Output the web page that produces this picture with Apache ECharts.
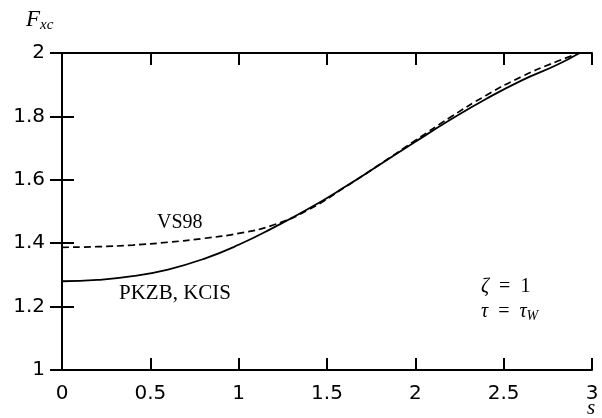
<!DOCTYPE html>
<html>
<head>
<meta charset="utf-8">
<script src="https://cdn.jsdelivr.net/npm/echarts@6/dist/echarts.min.js"></script>
<style>
  html, body { margin: 0; padding: 0; background: #fff; }
  #chart { width: 602px; height: 418px; }
</style>
</head>
<body>
<div id="chart"></div>
<script>
// s values and enhancement factors
var sVals = [0, 0.2, 0.4, 0.6, 0.8, 1.0, 1.2, 1.4, 1.6, 1.8, 2.0, 2.2, 2.4, 2.6, 2.8, 2.93];
var pkzb  = [1.28, 1.284, 1.296, 1.317, 1.35, 1.395, 1.45, 1.51, 1.577, 1.648, 1.72, 1.79, 1.855, 1.913, 1.962, 2.0];
var vs98  = [1.387, 1.389, 1.394, 1.403, 1.415, 1.431, 1.458, 1.507, 1.576, 1.649, 1.724, 1.798, 1.866, 1.925, 1.973, 2.0];
var xTicks = ['0', '0.5', '1', '1.5', '2', '2.5', '3'];

function pairs(ys) {
    var out = [];
    sVals.forEach(function (s, i) { out.push([s, ys[i]]); });
    return out;
}

var tickFont = { color: '#000', fontSize: 20, fontFamily: 'DejaVu Sans' };
var axisLine = { show: true, lineStyle: { color: '#000', width: 2 } };
var axisTick = { show: true, inside: true, length: 12, lineStyle: { color: '#000', width: 2 } };

var myChart = echarts.init(document.getElementById('chart'));
var option = {
    animation: false,
    backgroundColor: '#fff',
    grid: { left: 62, right: 10, top: 53, bottom: 48 },
    xAxis: [{
        type: 'value', min: 0, max: 3, interval: 0.5,
        axisLine: axisLine, axisTick: axisTick, splitLine: { show: false },
        axisLabel: Object.assign({ margin: 14, formatter: function (v) { return xTicks[Math.round(v * 2)]; } }, tickFont)
    }, {
        type: 'value', position: 'top', min: 0, max: 3, interval: 0.5,
        axisLine: axisLine, axisTick: axisTick, splitLine: { show: false },
        axisLabel: { show: false }
    }],
    yAxis: [{
        type: 'value', min: 1, max: 2, interval: 0.2,
        axisLine: axisLine, axisTick: axisTick, splitLine: { show: false },
        axisLabel: Object.assign({ margin: 17, formatter: function (v) { return String(Math.round(v * 10) / 10); } }, tickFont)
    }, {
        type: 'value', position: 'right', min: 1, max: 2, interval: 0.2,
        axisLine: axisLine, axisTick: axisTick, splitLine: { show: false },
        axisLabel: { show: false }
    }],
    series: [{
        name: 'PKZB, KCIS', type: 'line', smooth: true, symbol: 'none',
        lineStyle: { color: '#000', width: 1.8 },
        data: pairs(pkzb)
    }, {
        name: 'VS98', type: 'line', smooth: true, symbol: 'none',
        lineStyle: { color: '#000', width: 1.7, type: [7, 4] },
        data: pairs(vs98)
    }],
    graphic: [{
        type: 'text', left: 26, top: 8,
        style: {
            text: '{f|F}{sub|xc}',
            rich: {
                f: { fontFamily: 'Liberation Serif', fontStyle: 'italic', fontSize: 23, fill: '#000' },
                sub: { fontFamily: 'Liberation Serif', fontStyle: 'italic', fontSize: 15, fill: '#000', padding: [11, 0, 0, 0] }
            }
        }
    }, {
        type: 'text', left: 587, top: 398,
        style: { text: 's', fontFamily: 'Liberation Serif', fontStyle: 'italic', fontSize: 21, fill: '#000' }
    }, {
        type: 'text', left: 157, top: 213,
        style: { text: 'VS98', fontFamily: 'Liberation Serif', fontSize: 20, fill: '#000' }
    }, {
        type: 'text', left: 119, top: 283,
        style: { text: 'PKZB, KCIS', fontFamily: 'Liberation Serif', fontSize: 21, fill: '#000' }
    }, {
        type: 'text', left: 481, top: 277,
        style: {
            text: '{i|ζ}  =  1',
            fontFamily: 'Liberation Serif', fontSize: 20, fill: '#000',
            rich: { i: { fontFamily: 'Liberation Serif', fontStyle: 'italic', fontSize: 20, fill: '#000' } }
        }
    }, {
        type: 'text', left: 481, top: 302,
        style: {
            text: '{i|τ}  =  {i|τ}{sub|W}',
            fontFamily: 'Liberation Serif', fontSize: 20, fill: '#000',
            rich: {
                i: { fontFamily: 'Liberation Serif', fontStyle: 'italic', fontSize: 20, fill: '#000' },
                sub: { fontFamily: 'Liberation Serif', fontStyle: 'italic', fontSize: 14, fill: '#000', padding: [8, 0, 0, 0] }
            }
        }
    }]
};
myChart.setOption(option);
</script>
</body>
</html>
